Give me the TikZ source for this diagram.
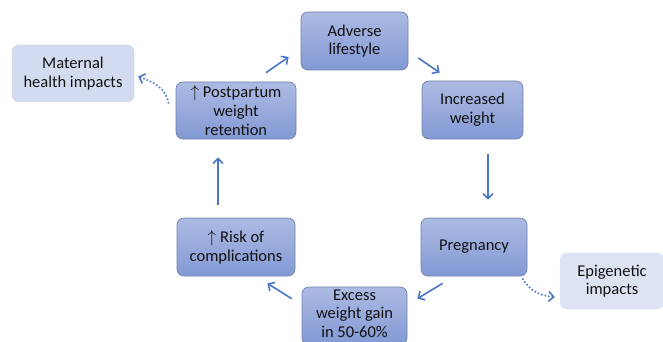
\documentclass[tikz,border=0pt]{standalone}
\usepackage{fontspec}
\setmainfont{Carlito}
\usetikzlibrary{arrows.meta,calc}
\definecolor{arrblue}{HTML}{4A76C6}
\definecolor{boxtop}{HTML}{ADBBE3}
\definecolor{boxbot}{HTML}{8299D4}
\definecolor{boxedge}{HTML}{7282AE}
\definecolor{lightbox}{HTML}{D3DBF0}
\definecolor{lightbox2}{HTML}{DDE3F3}
\definecolor{txt}{HTML}{111111}
\tikzset{
  cyc/.style={rectangle, rounded corners=7pt, draw=boxedge, line width=0.7pt,
    top color=boxtop, bottom color=boxbot, align=center, text=txt,
    font=\fontsize{16.5}{18.7}\selectfont, inner sep=0pt},
  side/.style={rectangle, rounded corners=7pt, draw=lightbox!90!gray, line width=0.4pt,
    fill=lightbox, align=center, text=txt,
    font=\fontsize{16.5}{18.7}\selectfont, inner sep=0pt},
  arr/.style={draw=arrblue, line width=1.6pt, -{Straight Barb[length=5pt,width=10pt]}},
  darr/.style={draw=arrblue, line width=1.6pt, dotted, -{Straight Barb[length=5pt,width=10pt,line width=1.6pt]}}
}
\begin{document}
\begin{tikzpicture}[x=1pt,y=-1pt]
\useasboundingbox (0,0) rectangle (663,342);
\fill[white] (0,0) rectangle (663,342);
\node[cyc, minimum width=107pt, minimum height=58pt] (adv) at (354.5,41) {Adverse\\lifestyle};
\node[cyc, minimum width=101pt, minimum height=58pt] (inc) at (472.5,110) {Increased\\weight};
\node[cyc, minimum width=106pt, minimum height=58pt] (preg) at (474,247) {Pregnancy};
\node[cyc, minimum width=105pt, minimum height=58pt] (exc) at (354.5,316) {};
\node[align=center, text=txt, font=\fontsize{16.5}{18.7}\selectfont, inner sep=0pt] (exctext) at (354.5,313.5) {Excess\\weight gain\\in 50-60\%};
\node[cyc, minimum width=118pt, minimum height=58pt] (risk) at (236,247) {$\uparrow$ Risk of\\complications};
\node[cyc, minimum width=120pt, minimum height=57pt] (post) at (236,110.5) {$\uparrow$ Postpartum\\weight\\retention};
\node[side, minimum width=122pt, minimum height=57pt] (mat) at (73,73.5) {Maternal\\health impacts};
\node[side, fill=lightbox2, draw=lightbox2, minimum width=104pt, minimum height=56pt] (epi) at (612,281) {Epigenetic\\impacts};

\draw[arr] ($(adv.east)+(10,17)$) -- ($(inc.north west)+(18,-8)$);
\draw[arr] ($(inc.south)+(15.5,15)$) -- ($(preg.north)+(14,-18)$);
\draw[arr] ($(preg.south west)+(22,7)$) -- ($(exc.north east)+(10,12)$);
\draw[arr] ($(exc.north west)+(-10,12)$) -- ($(risk.south east)+(-28,7)$);
\draw[arr] ($(risk.north)+(-18,-13)$) -- ($(post.south)+(-18,18)$);
\draw[arr] ($(post.north)+(30,-9)$) -- ($(adv.west)+(-12,16)$);
\draw[darr] ($(post.west)+(-7,-7)$) to[out=100,in=-20] ($(mat.east)+(4,3)$);
\draw[darr] ($(preg.south east)+(-5,2)$) to[out=-60,in=175] ($(epi.west)+(-5,16)$);
\end{tikzpicture}
\end{document}
